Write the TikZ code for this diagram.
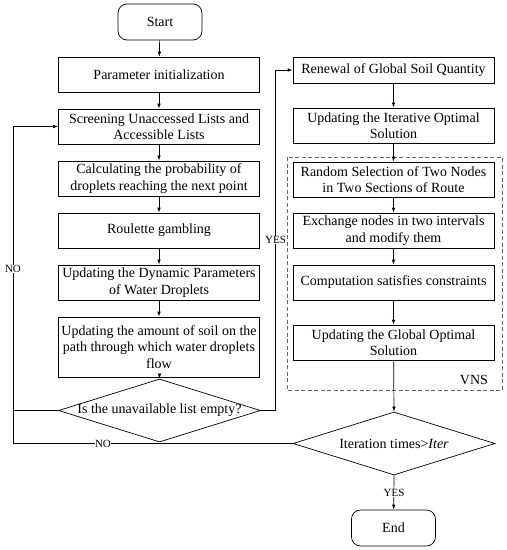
\documentclass[tikz,border=0pt]{standalone}
\usepackage{fontspec}
\setmainfont{Liberation Serif}
\usetikzlibrary{shapes.geometric,arrows.meta}

\begin{document}
\begin{tikzpicture}[x=1pt,y=-1pt,
  font=\fontsize{14}{16.5}\selectfont,
  every path/.style={line width=0.7pt},
  proc/.style={draw,rectangle,align=center,minimum width=201pt,inner sep=0pt},
  term/.style={draw,rectangle,rounded corners=9pt,minimum width=84pt,minimum height=36pt},
  dec/.style={draw,diamond,minimum width=202pt,minimum height=63pt,inner sep=0pt},
  lbl/.style={fill=white,inner sep=0.5pt,font=\fontsize{11}{12}\selectfont},
  arr/.style={-{Latex[length=5pt,width=3.5pt]}}]
 \useasboundingbox (0,0) rectangle (507,550);
 % left column
 \node[term] (start) at (160,22) {Start};
 \node[proc,minimum height=35pt] (init) at (159,74.5) {Parameter initialization};
 \node[proc,minimum height=35pt] (screen) at (159,126.5) {Screening Unaccessed Lists and\\Accessible Lists};
 \node[proc,minimum height=35pt] (prob) at (159,178.5) {Calculating the probability of\\droplets reaching the next point};
 \node[proc,minimum height=35pt] (roul) at (159,230.5) {Roulette gambling};
 \node[proc,minimum height=35pt] (dyn) at (159,282.5) {Updating the Dynamic Parameters\\of Water Droplets};
 \node[proc,minimum height=60pt] (soil) at (159,347) {Updating the amount of soil on the\\path through which water droplets\\flow};
 \node[dec] (empty) at (159.5,410.5) {};
 \node at (empty) {Is the unavailable list empty?};
 % right column
 \node[proc,minimum height=26pt] (renew) at (393.5,70) {Renewal of Global Soil Quantity};
 \node[proc,minimum height=35pt] (iterop) at (393.5,125.5) {Updating the Iterative Optimal\\Solution};
 \node[proc,minimum height=35pt] (rand) at (393.5,179.5) {Random Selection of Two Nodes\\in Two Sections of Route};
 \node[proc,minimum height=35pt] (exch) at (393.5,230.5) {Exchange nodes in two intervals\\and modify them};
 \node[proc,minimum height=35pt] (comp) at (393.5,282.5) {Computation satisfies constraints};
 \node[proc,minimum height=35pt] (glob) at (393.5,342.5) {Updating the Global Optimal\\Solution};
 \node[dec] (times) at (394,443.5) {};
 \node at (times) {Iteration times>\textit{Iter}};
 \node[term] (end) at (393.5,528) {End};
 % VNS frame
 \draw[dashed,gray!80!black,dash pattern=on 4pt off 2.5pt] (287,157) rectangle (502,390);
 \node (vns) at (474,380) {VNS};
 \coordinate (lx) at (13,0);
 \coordinate (rx) at (275.5,0);
 % connectors
 \draw[arr] (start) -- (init);
 \draw[arr] (init) -- (screen);
 \draw[arr] (screen) -- (prob);
 \draw[arr] (prob) -- (roul);
 \draw[arr] (roul) -- (dyn);
 \draw[arr] (dyn) -- (soil);
 \draw[arr] (soil) -- (empty.north);
 \draw (empty.west) -- (lx |- empty);
 \draw[arr] (times.west) -- (lx |- times) -- (lx |- screen) -- (screen.west);
 \draw[arr] (empty.east) -- (rx |- empty) -- (rx |- renew) -- (renew.west);
 \draw[arr] (renew) -- (iterop);
 \draw[arr] (iterop) -- (rand);
 \draw[arr] (rand) -- (exch);
 \draw[arr] (exch) -- (comp);
 \draw[arr] (comp) -- (glob);
 \draw[arr] (glob) -- (times.north);
 \draw[arr] (times.south) -- (end);
 \node[lbl] (no1) at (13,269) {NO};
 \node[lbl] (no2) at (103,443.5) {NO};
 \node[lbl] (yes1) at (275.5,240) {YES};
 \node[lbl] (yes2) at (394,493) {YES};
\end{tikzpicture}
\end{document}
